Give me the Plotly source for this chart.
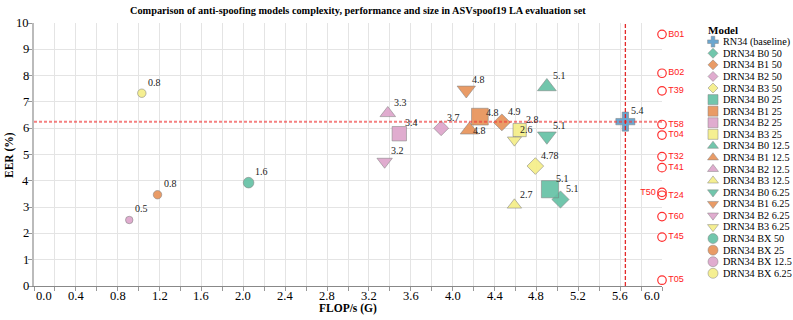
import plotly.graph_objects as go

W, H = 793, 320

# ---------------- data ----------------
models = ["RN34 (baseline)",
          "DRN34 B0 50", "DRN34 B1 50", "DRN34 B2 50", "DRN34 B3 50",
          "DRN34 B0 25", "DRN34 B1 25", "DRN34 B2 25", "DRN34 B3 25",
          "DRN34 B0 12.5", "DRN34 B1 12.5", "DRN34 B2 12.5", "DRN34 B3 12.5",
          "DRN34 B0 6.25", "DRN34 B1 6.25", "DRN34 B2 6.25", "DRN34 B3 6.25",
          "DRN34 BX 50", "DRN34 BX 25", "DRN34 BX 12.5", "DRN34 BX 6.25"]
flops = [5.65,
         5.03, 4.47, 3.89, 4.79,
         4.93, 4.26, 3.49, 4.64,
         4.90, 4.16, 3.38, 4.59,
         4.90, 4.13, 3.35, 4.59,
         2.05, 1.18, 0.91, 1.03]
eer = [6.25,
       3.29, 6.22, 6.00, 4.56,
       3.68, 6.44, 5.79, 5.93,
       7.58, 5.93, 6.57, 3.08,
       5.70, 7.45, 4.73, 5.55,
       3.93, 3.47, 2.51, 7.33]
size_m = [5.4,
          5.1, 4.9, 3.7, 4.78,
          5.1, 4.8, 3.4, 2.8,
          5.1, 4.8, 3.3, 2.7,
          5.1, 4.8, 3.2, 2.6,
          1.6, 0.8, 0.5, 0.8]
size_lbl = ["5.4",
            "5.1", "4.9", "3.7", "4.78",
            "5.1", "4.8", "3.4", "2.8",
            "5.1", "4.8", "3.3", "2.7",
            "5.1", "4.8", "3.2", "2.6",
            "1.6", "0.8", "0.5", "0.8"]

attacks = ["B01", "B02", "T39", "T58", "T04", "T32", "T41", "T50", "T24", "T60", "T45", "T05"]
attack_eer = [9.57, 8.09, 7.42, 6.14, 5.74, 4.92, 4.50, 3.56, 3.45, 2.64, 1.86, 0.22]
attack_flops = 6.0

x_ticks = [0.0, 0.4, 0.8, 1.2, 1.6, 2.0, 2.4, 2.8, 3.2, 3.6, 4.0, 4.4, 4.8, 5.2, 5.6, 6.0]
x_tick_text = [f"{v:.1f}" for v in x_ticks]
y_ticks = list(range(0, 11))
y_tick_text = [str(v) for v in y_ticks]

# ---------------- styles ----------------
COL = {"blue": "#5f9fcb", "green": "#66c2a5", "orange": "#e8935a",
       "pink": "#dea5cb", "yellow": "#f5ee88"}
BB_COL = {"B0": "green", "B1": "orange", "B2": "pink", "B3": "yellow"}
WD_COL = {"50": "green", "25": "orange", "12.5": "pink", "6.25": "yellow"}
WD_SYM = {"50": "diamond", "25": "square", "12.5": "triangle-up", "6.25": "triangle-down"}
SYM_SCALE = {"circle": 1.0, "square": 1.0, "diamond": 1 / 1.3,
             "triangle-up": 0.95, "triangle-down": 0.95, "cross": 0.9}
# pixel nudges of a few value labels (as placed in the reference)
LABEL_NUDGE = {"DRN34 B1 25": (0, -7), "DRN34 B1 12.5": (-2, -11)}


def style(name):
    if name.startswith("RN34"):
        return COL["blue"], "cross"
    _, bb, wd = name.split()
    if bb == "BX":
        return COL[WD_COL[wd]], "circle"
    return COL[BB_COL[bb]], WD_SYM[wd]


SERIF = "Liberation Serif, Times New Roman, serif"
SANS = "Liberation Sans, Arial, sans-serif"
TICKFONT = dict(family=SERIF, size=12.5, color="#000")

# plot area in pixels
PL, PR, PT, PB = 34, 662, 23, 286

fig = go.Figure()

# baseline reference lines
fig.add_shape(type="line", xref="x", yref="y", x0=0, x1=6, y0=eer[0], y1=eer[0],
              line=dict(color="rgba(240,60,60,0.65)", width=2, dash="3px,2px"), layer="above")
fig.add_shape(type="line", xref="x", yref="y", x0=flops[0], x1=flops[0], y0=0, y1=10,
              line=dict(color="rgba(225,20,20,0.9)", width=1.3, dash="4px,2px"), layer="above")

# model points
for i, name in enumerate(models):
    c, sym = style(name)
    s = (30 + 52 * size_m[i]) ** 0.5 * SYM_SCALE[sym]
    fig.add_trace(go.Scatter(
        x=[flops[i]], y=[eer[i]], mode="markers", name=name, showlegend=False,
        marker=dict(symbol=sym, size=s, color=c, opacity=0.92,
                    line=dict(color="rgba(120,120,120,0.7)", width=0.8)),
        xaxis="x", yaxis="y", cliponaxis=False))
    dx, dy = LABEL_NUDGE.get(name, (0, 0))
    fig.add_annotation(x=flops[i], y=eer[i], xref="x", yref="y", text=size_lbl[i],
                       showarrow=False, xanchor="left", yanchor="bottom",
                       xshift=4 + dx, yshift=3.5 + dy,
                       font=dict(family=SERIF, size=10, color="#222"))

# attack reference circles
fig.add_trace(go.Scatter(
    x=[attack_flops] * len(attacks), y=attack_eer, mode="markers+text",
    text=attacks,
    textposition=["middle left" if a == "T50" else "middle right" for a in attacks],
    textfont=dict(family=SANS, size=9, color="#ff2020"),
    marker=dict(symbol="circle-open", size=8.5, color="#ff3030", line=dict(width=1.2)),
    showlegend=False, cliponaxis=False, xaxis="x", yaxis="y"))

# tick labels (first / last x label flush with the axis ends)
for k, (v, t) in enumerate(zip(x_ticks, x_tick_text)):
    anchor = "left" if k == 0 else ("right" if k == len(x_ticks) - 1 else "center")
    fig.add_annotation(x=v, y=1 - 296 / H, xref="x", yref="paper", text=t, showarrow=False,
                       xanchor=anchor, yanchor="middle", font=TICKFONT)
for v, t in zip(y_ticks, y_tick_text):
    fig.add_annotation(x=31 / W, y=v, xref="paper", yref="y", text=t, showarrow=False,
                       xanchor="right", yanchor="middle", font=TICKFONT)

# manual legend (pixel coordinates on an overlay axis)
LX_SYM, LX_TXT, LY0, LDY = 713, 721, 41.7, 11.58
fig.add_annotation(x=706, y=29.5, xref="x2", yref="y2", text="<b>Model</b>", showarrow=False,
                   xanchor="left", yanchor="middle", font=dict(family=SERIF, size=11, color="#000"))
for i, name in enumerate(models):
    c, sym = style(name)
    y = LY0 + i * LDY
    fig.add_trace(go.Scatter(
        x=[LX_SYM], y=[y], mode="markers", showlegend=False,
        marker=dict(symbol=sym, size=10 * SYM_SCALE[sym], color=c, opacity=0.92,
                    line=dict(color="rgba(120,120,120,0.7)", width=0.7)),
        xaxis="x2", yaxis="y2", cliponaxis=False))
    fig.add_annotation(x=LX_TXT, y=y, xref="x2", yref="y2", text=name, showarrow=False,
                       xanchor="left", yanchor="middle",
                       font=dict(family=SERIF, size=10.2, color="#000"))

# titles
fig.add_annotation(x=358 / W, y=1 - 10 / H, xref="paper", yref="paper",
                   text="<b>Comparison of anti-spoofing models complexity, performance and size in ASVspoof19 LA evaluation set</b>",
                   showarrow=False, xanchor="center", yanchor="middle",
                   font=dict(family=SERIF, size=10.3, color="#000"))
fig.add_annotation(x=(PL + PR) / 2 / W, y=1 - 308 / H, xref="paper", yref="paper",
                   text="<b>FLOP/s (G)</b>", showarrow=False, xanchor="center", yanchor="middle",
                   font=dict(family=SERIF, size=11.5, color="#000"))
fig.add_annotation(x=9 / W, y=1 - 155 / H, xref="paper", yref="paper",
                   text="<b>EER (%)</b>", showarrow=False, textangle=-90,
                   xanchor="center", yanchor="middle",
                   font=dict(family=SERIF, size=11.5, color="#000"))

fig.update_layout(
    width=W, height=H, margin=dict(l=0, r=0, t=0, b=0),
    paper_bgcolor="white", plot_bgcolor="rgba(0,0,0,0)", showlegend=False,
    xaxis=dict(domain=[PL / W, PR / W], range=[0, 6], tickvals=x_ticks, showticklabels=False,
               showgrid=True, gridcolor="#e4e4e4", gridwidth=1,
               minor=dict(dtick=0.2, showgrid=True, gridcolor="#e4e4e4", ticks="outside",
                          ticklen=4, tickcolor="#999"),
               ticks="outside", ticklen=4, tickcolor="#999",
               showline=True, linecolor="#888", linewidth=1, zeroline=False,
               automargin=False, anchor="y", fixedrange=True),
    yaxis=dict(domain=[1 - PB / H, 1 - PT / H], range=[0, 10], tickvals=y_ticks,
               showticklabels=False, showgrid=True, gridcolor="#e4e4e4", gridwidth=1,
               ticks="outside", ticklen=4, tickcolor="#999",
               showline=True, linecolor="#bbb", linewidth=2, zeroline=False,
               automargin=False, anchor="x", fixedrange=True),
    xaxis2=dict(domain=[0, 1], range=[0, W], visible=False, anchor="y2", fixedrange=True),
    yaxis2=dict(domain=[0, 1], range=[H, 0], visible=False, anchor="x2", fixedrange=True),
)

fig.write_html("out.html", config={"displayModeBar": False},
               post_script="document.body.style.margin='0px';")
